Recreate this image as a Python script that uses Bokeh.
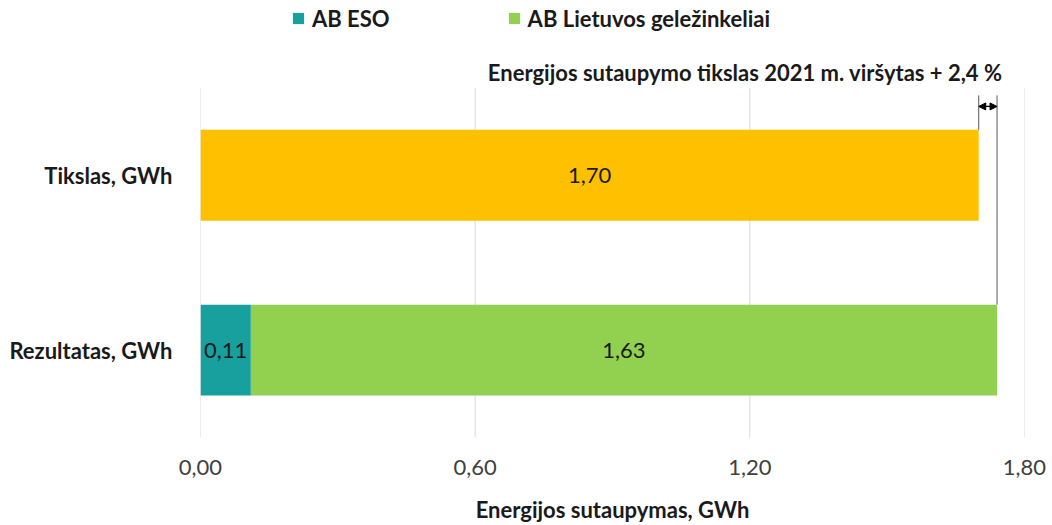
from bokeh.plotting import figure
from bokeh.models import (Range1d, FixedTicker, CustomJSTickFormatter, Legend, LegendItem,
                          Label, Arrow, NormalHead, ColumnDataSource)
from bokeh.core.properties import value
from bokeh.embed import file_html
from bokeh.resources import INLINE

categories = ["Rezultatas, GWh", "Tikslas, GWh"]
eso = [0.11, 0.0]
ltg = [1.63, 0.0]
target = [0.0, 1.70]
series_names = ["AB ESO", "AB Lietuvos geležinkeliai"]
x_ticks = [0.0, 0.6, 1.2, 1.8]
annotation_text = "Energijos sutaupymo tikslas 2021 m. viršytas + 2,4 %"
x_title = "Energijos sutaupymas, GWh"

FONT = "Lato"
FS = "22px"
C_ESO = "#17a09e"
C_LTG = "#92d050"
C_TGT = "#ffc000"
GRID = "#d9d9d9"

W, H = 1052, 525
ypos = list(range(len(categories)))
p = figure(width=W, height=H, output_backend="svg", toolbar_location=None,
           x_range=Range1d(0, 1.8), y_range=Range1d(-0.5, 2.0),
           min_border_left=200, min_border_right=28, min_border_top=0, min_border_bottom=87)
p.outline_line_color = None
p.background_fill_color = "white"

# grid lines (only across the category band)
grid = ColumnDataSource(dict(x=x_ticks, y0=[-0.5] * len(x_ticks), y1=[1.5] * len(x_ticks)))
p.segment(x0="x", y0="y0", x1="x", y1="y1", source=grid, line_color=GRID, line_width=1)

src = ColumnDataSource(dict(y=ypos, eso_end=eso,
                            ltg_end=[a + b for a, b in zip(eso, ltg)], tgt=target))
h = 0.52
r_eso = p.hbar(y="y", left=0, right="eso_end", height=h, color=C_ESO, source=src, line_color=None)
r_ltg = p.hbar(y="y", left="eso_end", right="ltg_end", height=h, color=C_LTG, source=src, line_color=None)
r_tgt = p.hbar(y="y", left=0, right="tgt", height=h, color=C_TGT, source=src, line_color=None)

def fmt(v):
    return f"{v:.2f}".replace(".", ",")

lab = ColumnDataSource(dict(
    x=[eso[0] / 2, eso[0] + ltg[0] / 2, target[1] / 2],
    y=[ypos[0], ypos[0], ypos[1]],
    t=[fmt(eso[0]), fmt(ltg[0]), fmt(target[1])]))
p.text(x="x", y="y", text="t", source=lab, text_align="center", text_baseline="middle",
       text_font=value(FONT), text_font_size=FS, text_color="#1a1a1a")

# axes
p.xaxis.ticker = FixedTicker(ticks=x_ticks)
p.xaxis.formatter = CustomJSTickFormatter(code="return tick.toFixed(2).replace('.', ',');")
p.xaxis.axis_line_color = None
p.xaxis.major_tick_line_color = None
p.xaxis.minor_tick_line_color = None
p.xaxis.major_label_text_font = FONT
p.xaxis.major_label_text_font_size = FS
p.xaxis.major_label_text_color = "#404040"
p.xaxis.major_label_standoff = 16
p.xaxis.axis_label = x_title
p.xaxis.axis_label_text_font = FONT
p.xaxis.axis_label_text_font_size = FS
p.xaxis.axis_label_text_font_style = "bold"
p.xaxis.axis_label_text_color = "#1a1a1a"
p.xaxis.axis_label_standoff = 18

p.yaxis.ticker = FixedTicker(ticks=ypos)
p.yaxis.major_label_overrides = {i: c for i, c in zip(ypos, categories)}
p.yaxis.axis_line_color = None
p.yaxis.major_tick_line_color = None
p.yaxis.minor_tick_line_color = None
p.yaxis.major_label_text_font = FONT
p.yaxis.major_label_text_font_size = FS
p.yaxis.major_label_text_font_style = "bold"
p.yaxis.major_label_text_color = "#1a1a1a"
p.yaxis.major_label_standoff = 22

p.xgrid.grid_line_color = None
p.ygrid.grid_line_color = None

# annotation: exceedance marker
tot = eso[0] + ltg[0]
seg = ColumnDataSource(dict(x0=[target[1], tot], y0=[1.457, 1.457], x1=[target[1], tot],
                            y1=[ypos[1] + h / 2, ypos[0] + h / 2]))
p.segment(x0="x0", y0="y0", x1="x1", y1="y1", source=seg, line_color="#595959", line_width=1)
p.add_layout(Arrow(start=NormalHead(size=7, fill_color="black", line_color="black"),
                   end=NormalHead(size=7, fill_color="black", line_color="black"),
                   x_start=target[1], x_end=tot, y_start=1.394, y_end=1.394,
                   line_color="black", line_width=1.2))
p.add_layout(Label(x=1.752, y=1.589, text=annotation_text, text_align="right", text_baseline="middle",
                   text_font=FONT, text_font_size=FS, text_font_style="bold", text_color="#1a1a1a"))

legend = Legend(items=[LegendItem(label=series_names[0], renderers=[r_eso]),
                       LegendItem(label=series_names[1], renderers=[r_ltg])],
                orientation="horizontal", location=(91, 405), glyph_width=14, glyph_height=14,
                label_standoff=7, spacing=117, padding=0, margin=0, border_line_color=None,
                background_fill_alpha=0, label_text_font=FONT, label_text_font_size=FS,
                label_text_font_style="bold", label_text_color="#1a1a1a", label_height=28)
p.add_layout(legend, "center")

open("out.html", "w").write(file_html(p, INLINE))
